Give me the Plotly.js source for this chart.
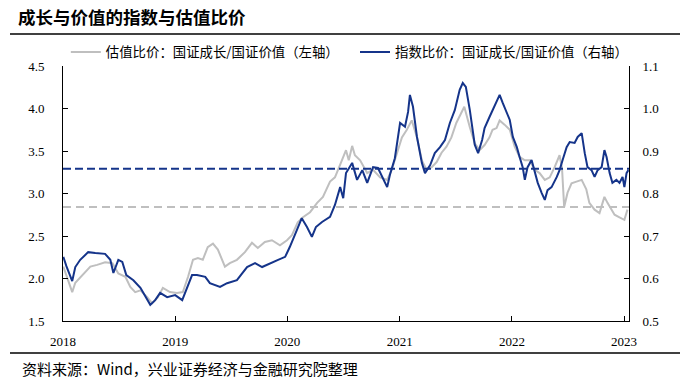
<!DOCTYPE html>
<html>
<head>
<meta charset="utf-8">
<script src="https://cdn.plot.ly/plotly-3.0.1.min.js"></script>
<style>
html,body{margin:0;padding:0;background:#fff;}
#chart{width:688px;height:378px;}
</style>
</head>
<body>
<div id="chart"></div>
<script>
// ---- Data ----
const chartTitle = "成长与价值的指数与估值比价";
const sourceNote = "资料来源：Wind，兴业证券经济与金融研究院整理";
const valName = "估值比价：国证成长/国证价值（左轴）";
const idxName = "指数比价：国证成长/国证价值（右轴）";

const valDates = ["2018-01-02","2018-01-18","2018-01-31","2018-02-10","2018-03-05","2018-03-31","2018-04-22","2018-05-18","2018-06-11","2018-06-30","2018-07-23","2018-08-08","2018-08-24","2018-09-10","2018-10-02","2018-10-18","2018-11-06","2018-11-22","2018-12-15","2019-01-07","2019-01-26","2019-02-12","2019-02-28","2019-03-16","2019-04-01","2019-04-17","2019-05-04","2019-05-20","2019-06-12","2019-06-28","2019-07-21","2019-08-16","2019-09-08","2019-09-27","2019-10-20","2019-11-12","2019-12-08","2019-12-31","2020-01-16","2020-02-04","2020-02-21","2020-03-15","2020-04-07","2020-04-26","2020-05-19","2020-06-04","2020-06-21","2020-07-01","2020-07-10","2020-07-19","2020-07-30","2020-08-08","2020-08-25","2020-09-17","2020-10-06","2020-10-29","2020-11-21","2020-12-06","2020-12-23","2021-01-08","2021-01-24","2021-02-09","2021-02-26","2021-03-14","2021-03-29","2021-04-15","2021-05-01","2021-05-17","2021-06-02","2021-06-18","2021-07-04","2021-07-20","2021-07-30","2021-08-17","2021-09-02","2021-09-18","2021-10-04","2021-10-20","2021-10-30","2021-11-12","2021-11-22","2021-12-08","2021-12-25","2022-01-10","2022-01-26","2022-02-12","2022-02-28","2022-03-16","2022-04-01","2022-04-18","2022-05-04","2022-05-20","2022-06-05","2022-06-13","2022-06-20","2022-07-01","2022-07-14","2022-07-30","2022-08-16","2022-08-31","2022-09-10","2022-09-27","2022-10-13","2022-10-23","2022-10-29","2022-11-08","2022-11-21","2022-12-01","2022-12-17","2023-01-02","2023-01-12"];
const valRatio = [2.14,1.98,1.84,1.95,2.04,2.14,2.16,2.19,2.18,2.06,2.02,1.90,1.84,1.86,1.78,1.71,1.78,1.89,1.84,1.83,1.84,2.02,2.22,2.24,2.22,2.37,2.41,2.34,2.14,2.18,2.22,2.31,2.42,2.36,2.43,2.45,2.39,2.45,2.51,2.66,2.72,2.78,2.89,2.96,3.14,3.19,3.34,3.42,3.51,3.39,3.56,3.45,3.39,3.24,3.28,3.19,3.16,3.28,3.48,3.66,3.75,3.86,3.66,3.39,3.28,3.31,3.37,3.48,3.55,3.66,3.83,3.95,4.02,3.78,3.59,3.51,3.57,3.66,3.75,3.77,3.86,3.81,3.75,3.55,3.43,3.39,3.39,3.28,3.24,3.16,3.19,3.31,3.45,3.30,2.84,3.01,3.12,3.14,3.16,3.05,2.89,2.81,2.77,2.89,2.96,2.89,2.81,2.75,2.72,2.69,2.81];

const idxDates = ["2018-01-02","2018-01-12","2018-01-31","2018-02-10","2018-02-26","2018-03-24","2018-04-16","2018-05-18","2018-06-04","2018-06-14","2018-06-30","2018-07-13","2018-07-26","2018-08-18","2018-09-10","2018-10-05","2018-10-12","2018-10-28","2018-11-13","2018-12-06","2019-01-01","2019-01-24","2019-02-09","2019-02-25","2019-03-13","2019-04-09","2019-04-24","2019-05-27","2019-06-19","2019-07-21","2019-08-23","2019-09-18","2019-10-11","2019-11-06","2019-12-02","2019-12-25","2020-01-09","2020-02-01","2020-02-17","2020-03-05","2020-03-21","2020-04-03","2020-04-23","2020-05-19","2020-06-04","2020-06-21","2020-07-01","2020-07-10","2020-07-23","2020-07-30","2020-08-15","2020-09-01","2020-09-17","2020-10-06","2020-10-22","2020-11-04","2020-11-21","2020-11-30","2020-12-16","2021-01-02","2021-01-18","2021-01-28","2021-02-03","2021-02-13","2021-02-26","2021-03-14","2021-03-24","2021-04-10","2021-04-25","2021-05-12","2021-05-28","2021-06-13","2021-06-29","2021-07-15","2021-07-25","2021-08-04","2021-08-17","2021-09-02","2021-09-13","2021-09-26","2021-10-04","2021-10-20","2021-11-06","2021-11-22","2021-12-02","2021-12-15","2021-12-25","2022-01-04","2022-01-17","2022-01-26","2022-02-05","2022-02-12","2022-02-21","2022-03-06","2022-03-16","2022-03-26","2022-04-08","2022-04-18","2022-04-27","2022-05-10","2022-05-27","2022-06-05","2022-06-15","2022-06-28","2022-07-08","2022-07-24","2022-08-03","2022-08-16","2022-08-26","2022-09-04","2022-09-17","2022-09-27","2022-10-07","2022-10-20","2022-10-29","2022-11-05","2022-11-15","2022-11-24","2022-12-07","2022-12-17","2022-12-27","2023-01-02","2023-01-09","2023-01-15"];
const idxRatio = [0.651,0.629,0.594,0.627,0.644,0.662,0.660,0.658,0.644,0.613,0.644,0.639,0.608,0.596,0.578,0.549,0.538,0.549,0.566,0.556,0.561,0.549,0.580,0.608,0.608,0.604,0.589,0.580,0.589,0.596,0.627,0.636,0.627,0.636,0.644,0.651,0.674,0.714,0.742,0.721,0.698,0.721,0.733,0.745,0.773,0.815,0.789,0.848,0.862,0.872,0.832,0.855,0.825,0.862,0.860,0.839,0.815,0.844,0.883,0.966,0.957,0.992,1.032,1.004,0.933,0.872,0.848,0.867,0.895,0.909,0.926,0.966,0.996,1.044,1.060,1.051,0.996,0.915,0.895,0.926,0.954,0.980,1.008,1.032,1.013,0.989,0.973,0.933,0.909,0.886,0.862,0.832,0.862,0.879,0.855,0.825,0.801,0.785,0.808,0.815,0.839,0.855,0.879,0.909,0.921,0.919,0.933,0.942,0.895,0.862,0.855,0.839,0.855,0.862,0.902,0.886,0.848,0.825,0.832,0.825,0.839,0.815,0.848,0.855];

// average reference lines
const valMean = 2.84;
const idxMean = 0.858;

const xStart = "2018-01-01";
const xEnd = "2023-01-17";
const yearTicks = ["2018-01-01","2019-01-01","2020-01-01","2021-01-01","2022-01-01","2023-01-01"];
const yearLabels = ["2018","2019","2020","2021","2022","2023"];

// ---- Styles ----
const NAVY = "#15348A";
const GRAY = "#BFBFBF";
const CJK = "'Noto Sans CJK SC', 'Noto Sans', sans-serif";
const SERIF = "'Liberation Serif', 'DejaVu Serif', serif";

const traces = [
  {x: valDates, y: valRatio, name: valName, type: "scatter", mode: "lines",
   line: {color: GRAY, width: 2}, yaxis: "y", legend: "legend"},
  {x: idxDates, y: idxRatio, name: idxName, type: "scatter", mode: "lines",
   line: {color: NAVY, width: 2}, yaxis: "y2", legend: "legend2"},
  {x: [xStart, xEnd], y: [valMean, valMean], type: "scatter", mode: "lines",
   line: {color: GRAY, width: 2, dash: "8px,5px"}, yaxis: "y", showlegend: false, hoverinfo: "skip"},
  {x: [xStart, xEnd], y: [idxMean, idxMean], type: "scatter", mode: "lines",
   line: {color: NAVY, width: 2, dash: "8px,4px"}, yaxis: "y2", showlegend: false, hoverinfo: "skip"}
];

const axisCommon = {
  showgrid: false, zeroline: false, showline: true, linecolor: "#000", linewidth: 1,
  ticks: "inside", ticklen: 5, tickcolor: "#000", tickwidth: 1,
  tickfont: {family: SERIF, size: 13, color: "#000"}
};

const legendCommon = {
  orientation: "h", xanchor: "left", y: 0.993, yanchor: "bottom",
  font: {family: CJK, size: 13.4, color: "#000"}, bgcolor: "rgba(0,0,0,0)", itemwidth: 30
};

const layout = {
  width: 688, height: 378,
  margin: {l: 63, r: 59, t: 66, b: 57, pad: 0},
  paper_bgcolor: "#fff", plot_bgcolor: "#fff",
  font: {family: CJK, color: "#000"},
  title: {text: "<b>" + chartTitle + "</b>", x: 18/688, xanchor: "left", xref: "container",
          y: 1 - 18/378, yanchor: "middle", yref: "container",
          font: {family: CJK, size: 17.5, color: "#000"}},
  showlegend: true,
  legend: Object.assign({}, legendCommon, {x: 0.005}),
  legend2: Object.assign({}, legendCommon, {x: (355-63)/566}),
  xaxis: Object.assign({}, axisCommon, {
    type: "date", range: [xStart, xEnd], tickmode: "array",
    tickvals: yearTicks, ticktext: yearLabels, ticklabelstandoff: 8
  }),
  yaxis: Object.assign({}, axisCommon, {
    range: [1.5, 4.5], dtick: 0.5, tick0: 1.5, tickformat: ".1f", ticklabelstandoff: 15
  }),
  yaxis2: Object.assign({}, axisCommon, {
    range: [0.5, 1.1], dtick: 0.1, tick0: 0.5, tickformat: ".1f", overlaying: "y", side: "right",
    ticklabelstandoff: 10
  }),
  shapes: [
    {type: "line", xref: "paper", yref: "paper", x0: (10-63)/566, x1: (680-63)/566,
     y0: 1 + (66-34)/255, y1: 1 + (66-34)/255, line: {color: "#000", width: 1.5}},
    {type: "line", xref: "paper", yref: "paper", x0: (10-63)/566, x1: (680-63)/566,
     y0: -(353-321)/255, y1: -(353-321)/255, line: {color: "#000", width: 1.5}}
  ],
  annotations: [
    {text: sourceNote, xref: "paper", yref: "paper", x: (20-63)/566, xanchor: "left",
     y: -(368-321)/255, yanchor: "middle", showarrow: false,
     font: {family: CJK, size: 15, color: "#000"}}
  ]
};

Plotly.newPlot("chart", traces, layout, {staticPlot: true, displayModeBar: false});
</script>
</body>
</html>
